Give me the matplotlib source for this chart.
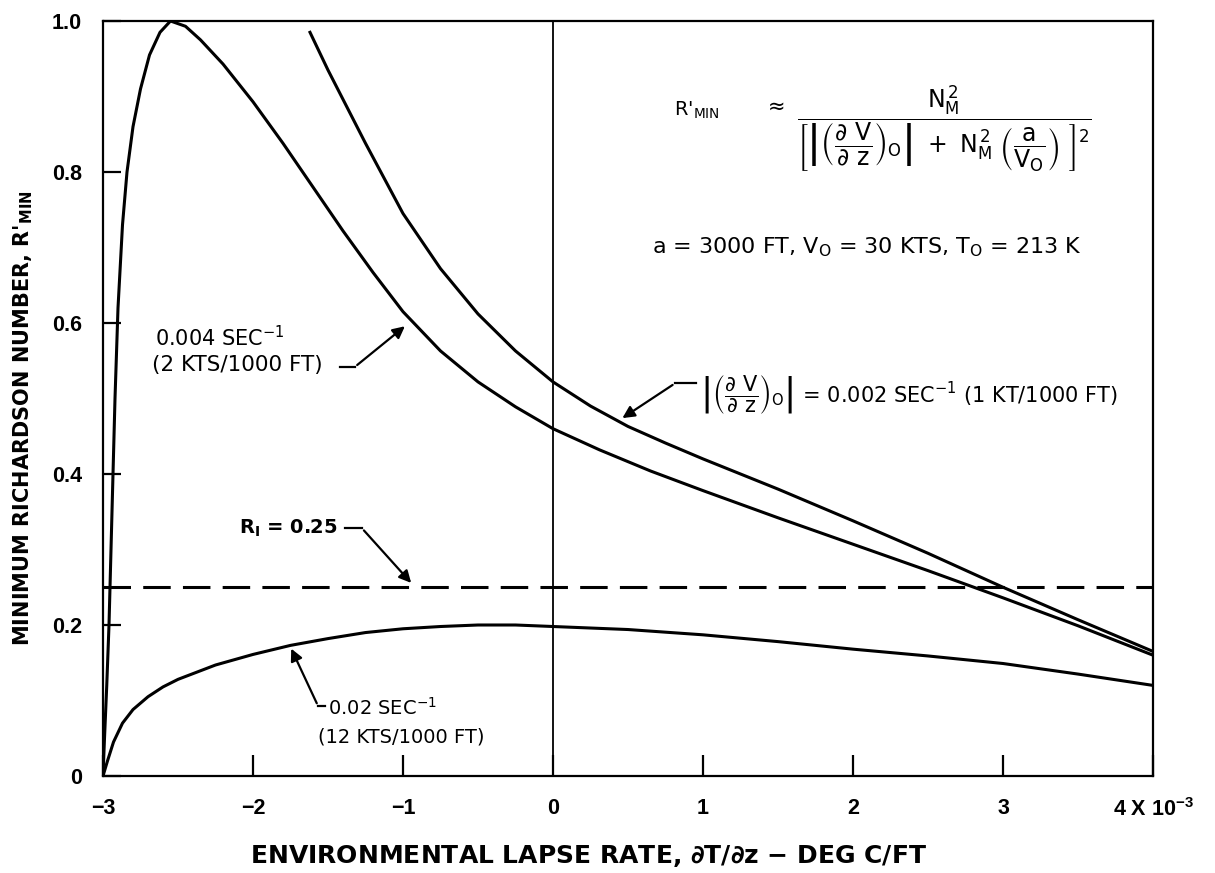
import numpy as np
import matplotlib
matplotlib.use("Agg")
import matplotlib.pyplot as plt
import matplotlib.transforms as mtransforms

plt.rcParams['font.family'] = ['DejaVu Sans']
plt.rcParams['mathtext.fontset'] = 'dejavusans'
plt.rcParams['mathtext.default'] = 'regular'

# lapse rate (x 10^-3 deg C/ft) and minimum Richardson number
x_1kt = [-1.62, -1.5, -1.25, -1.0, -0.75, -0.5, -0.25, 0.0, 0.25, 0.5, 0.75,
         1.0, 1.5, 2.0, 2.5, 3.0, 3.5, 4.0]
ri_1kt = [0.985, 0.935, 0.838, 0.745, 0.672, 0.612, 0.563, 0.522, 0.49, 0.463, 0.441,
          0.42, 0.38, 0.338, 0.295, 0.25, 0.207, 0.165]

x_2kt = [-3.0, -2.99, -2.975, -2.96, -2.94, -2.92, -2.9, -2.87, -2.84, -2.8,
         -2.75, -2.69, -2.62, -2.55, -2.45, -2.35, -2.2, -2.0, -1.8, -1.6,
         -1.4, -1.2, -1.0, -0.75, -0.5, -0.25, 0.0, 0.31, 0.65, 1.0, 1.5,
         2.0, 2.5, 3.0, 3.5, 4.0]
ri_2kt = [0.0, 0.05, 0.12, 0.2, 0.35, 0.5, 0.62, 0.73, 0.8, 0.86,
          0.91, 0.955, 0.985, 1.0, 0.993, 0.975, 0.943, 0.893, 0.838, 0.78,
          0.722, 0.667, 0.615, 0.563, 0.522, 0.489, 0.46, 0.432, 0.404, 0.378, 0.342,
          0.307, 0.272, 0.236, 0.199, 0.16]

x_12kt = [-3.0, -2.97, -2.93, -2.87, -2.8, -2.7, -2.6, -2.5, -2.25, -2.0, -1.75,
          -1.5, -1.25, -1.0, -0.75, -0.5, -0.25, 0.0, 0.5, 1.0, 1.5, 2.0, 2.5,
          3.0, 3.5, 4.0]
ri_12kt = [0.0, 0.02, 0.045, 0.07, 0.088, 0.105, 0.118, 0.128, 0.147, 0.161, 0.173,
           0.182, 0.19, 0.195, 0.198, 0.2, 0.2, 0.198, 0.194, 0.187, 0.178, 0.168, 0.159,
           0.149, 0.135, 0.12]

ri_crit = 0.25

x_ticks = [-3, -2, -1, 0, 1, 2, 3, 4]
x_ticklabels = ['\u22123', '\u22122', '\u22121', '0', '1', '2', '3', '']
y_ticks = [0, 0.2, 0.4, 0.6, 0.8, 1.0]
y_ticklabels = ['0', '0.2', '0.4', '0.6', '0.8', '1.0']

fig = plt.figure(figsize=(12.15, 8.73), dpi=100)
ax = fig.add_axes([103 / 1215, 1 - 776 / 873, 1050 / 1215, 755 / 873])

ax.plot(x_1kt, ri_1kt, color='black', lw=2.2)
ax.plot(x_2kt, ri_2kt, color='black', lw=2.2)
ax.plot(x_12kt, ri_12kt, color='black', lw=2.2)
ax.axhline(ri_crit, color='black', lw=2.2, dashes=(9, 4))
ax.axvline(0, color='black', lw=1.3)

ax.set_xlim(-3, 4)
ax.set_ylim(0, 1.0)
for s in ax.spines.values():
    s.set_linewidth(1.6)

ax.set_xticks(x_ticks)
ax.set_xticklabels(x_ticklabels)
ax.set_yticks(y_ticks)
ax.set_yticklabels(y_ticklabels)
ax.tick_params(axis='x', direction='in', length=15, width=1.6, pad=16, labelsize=15.5)
ax.tick_params(axis='y', direction='in', length=13, width=1.6, pad=15, labelsize=15.5)
for lbl in ax.get_xticklabels() + ax.get_yticklabels():
    lbl.set_fontweight('bold')
    lbl.set_family('Liberation Sans')

trans = mtransforms.blended_transform_factory(ax.transData, ax.transAxes)
ax.text(4, -0.0525, '4 X 10$^{-3}$', transform=trans, ha='center', va='baseline',
        fontsize=15.5, fontweight='bold', family='Liberation Sans')

fig.text(589 / 1215, 1 - 856 / 873,
         r'ENVIRONMENTAL LAPSE RATE, $\partial$T/$\partial$z $-$ DEG C/FT',
         ha='center', va='center', fontsize=18, fontweight='bold')
fig.text(23 / 1215, 1 - 418 / 873, "MINIMUM RICHARDSON NUMBER, R'$_{MIN}$",
         ha='center', va='center', rotation=90, fontsize=15, fontweight='bold')

# formula block
ax.text(0.81, 0.882, "R'$_{MIN}$", fontsize=14, ha='left', va='center')
ax.text(1.40, 0.888, r'$\approx$', fontsize=15, ha='left', va='center')
ax.text(2.61, 0.858,
        r'$\dfrac{N_M^{\,2}}{\left[\left|\left(\dfrac{\partial\ V}{\partial\ z}\right)_O\right|\ +\ N_M^{\,2}\ \left(\dfrac{a}{V_O}\right)\ \right]^2}$',
        fontsize=17, ha='center', va='center')
ax.text(2.09, 0.70, 'a = 3000 FT, V$_O$ = 30 KTS, T$_O$ = 213 K',
        fontsize=16, ha='center', va='center')

arrow_kw = dict(arrowstyle='-|>', color='black', lw=1.6, mutation_scale=18)

# 2 kts / 1000 ft label
ax.text(-2.653, 0.581, '0.004 SEC$^{-1}$', fontsize=15, ha='left', va='center')
ax.text(-2.673, 0.544, '(2 KTS/1000 FT)', fontsize=15.5, ha='left', va='center')
ax.plot([-1.42, -1.32], [0.542, 0.542], color='black', lw=1.6)
ax.annotate('', xy=(-0.973, 0.598), xytext=(-1.32, 0.542), arrowprops=arrow_kw)

# Ri = 0.25 label
ax.text(-1.433, 0.328, 'R$_I$ = 0.25', fontsize=14, ha='right', va='center',
        fontweight='bold')
ax.plot([-1.39, -1.273], [0.328, 0.328], color='black', lw=1.6)
ax.annotate('', xy=(-0.933, 0.253), xytext=(-1.273, 0.328),
            arrowprops=dict(arrowstyle='-|>', color='black', lw=1.6,
                            mutation_scale=18, facecolor='white'))

# 12 kts / 1000 ft label
ax.text(-1.5, 0.09, '0.02 SEC$^{-1}$', fontsize=14, ha='left', va='center')
ax.text(-1.567, 0.052, '(12 KTS/1000 FT)', fontsize=14, ha='left', va='center')
ax.plot([-1.567, -1.52], [0.093, 0.093], color='black', lw=1.6)
ax.annotate('', xy=(-1.753, 0.172), xytext=(-1.567, 0.093), arrowprops=arrow_kw)

# 1 kt / 1000 ft label
ax.text(0.98, 0.505,
        r'$\left|\left(\dfrac{\partial\ V}{\partial\ z}\right)_O\right|$ = 0.002 SEC$^{-1}$ (1 KT/1000 FT)',
        fontsize=15, ha='left', va='center')
ax.plot([0.95, 0.813], [0.52, 0.52], color='black', lw=1.6)
ax.annotate('', xy=(0.447, 0.472), xytext=(0.813, 0.52), arrowprops=arrow_kw)

plt.savefig('out.png', dpi=100)
